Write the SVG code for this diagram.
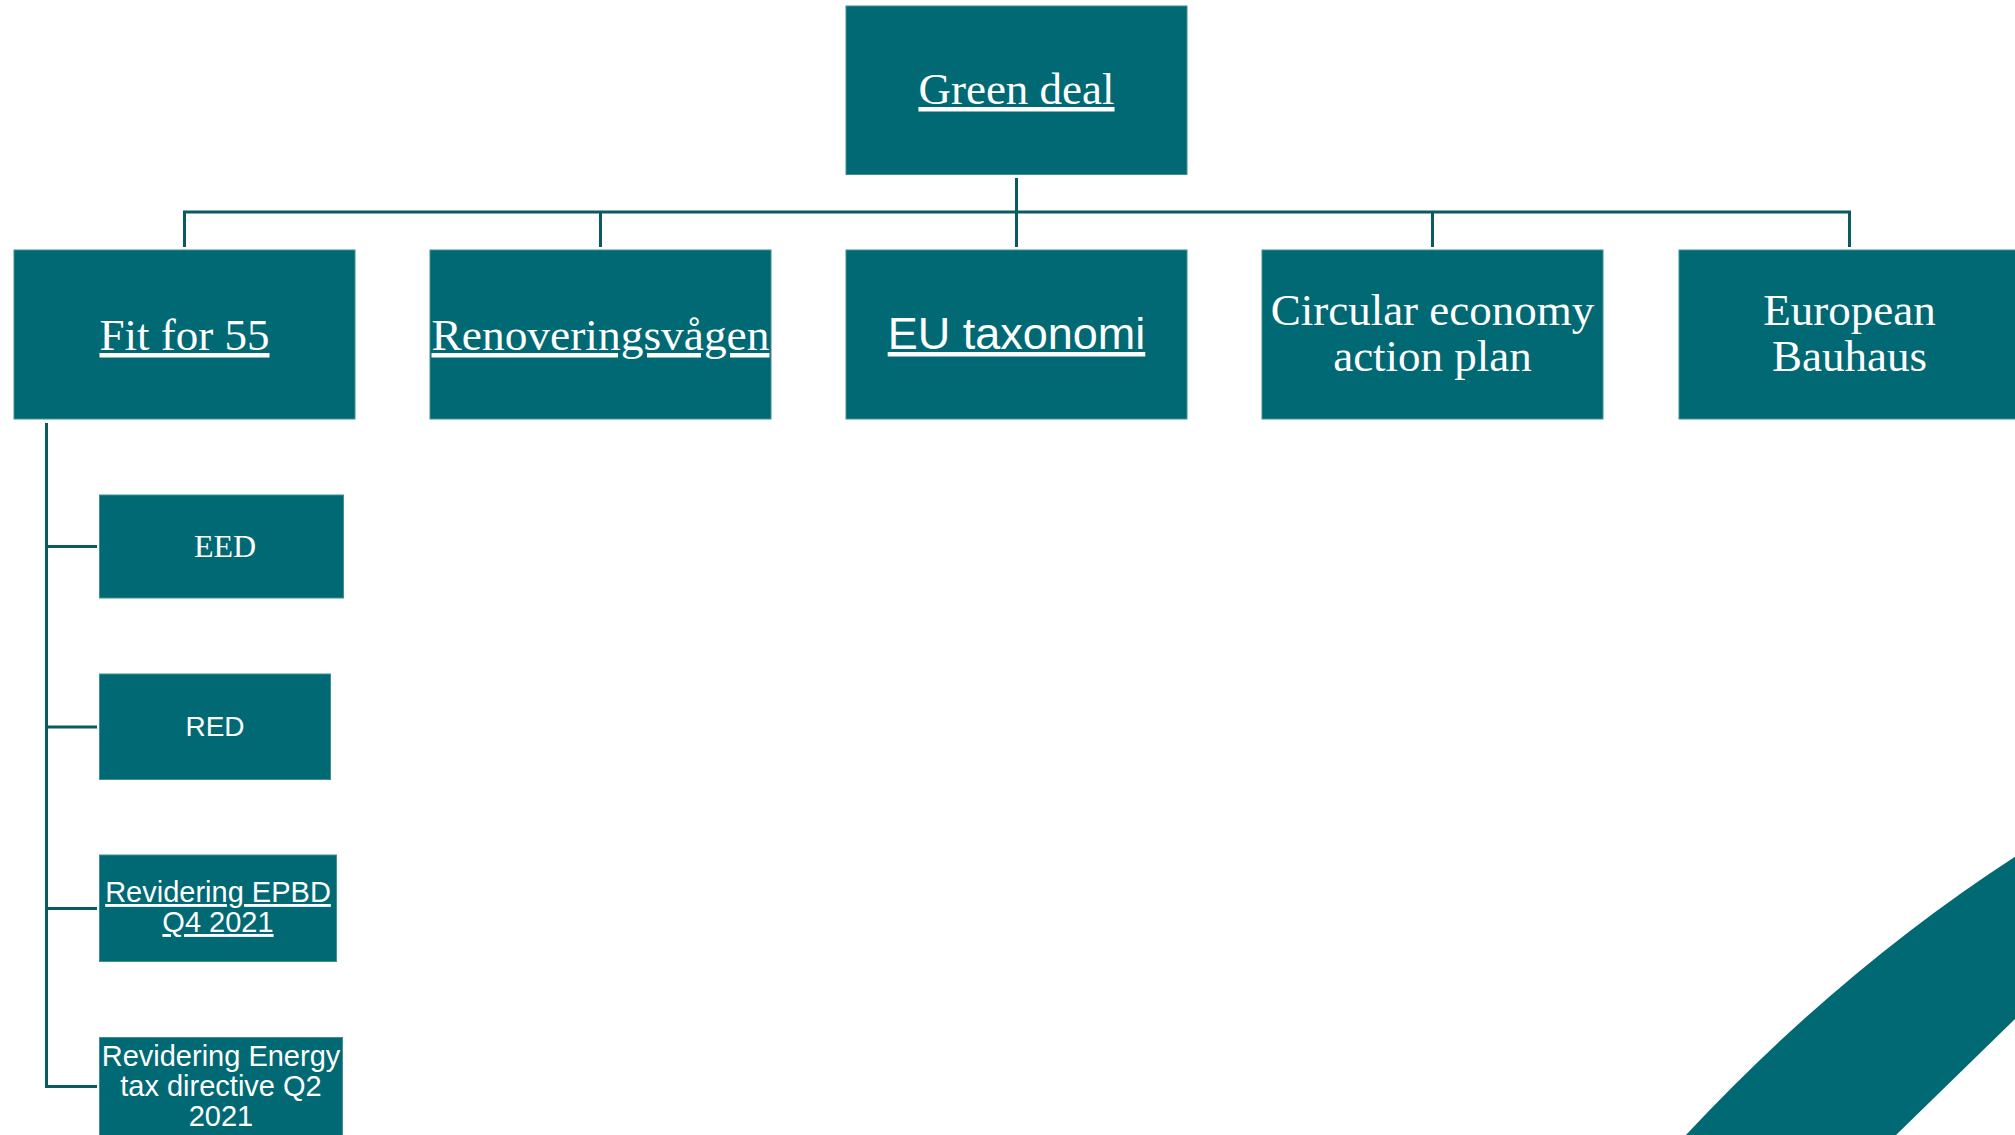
<svg xmlns="http://www.w3.org/2000/svg" width="2015" height="1135" viewBox="0 0 2015 1135">
<style>
.box{fill:#016974;stroke:#3f8f96;stroke-width:1}
.con{stroke:#0b5961;stroke-width:3;fill:none}
.serif{font-family:"Liberation Serif","Times New Roman",serif;fill:#ffffff;text-anchor:middle}
.sans{font-family:"Liberation Sans",Arial,sans-serif;fill:#ffffff;text-anchor:middle}
.u{text-decoration:underline}
</style>
<rect width="2015" height="1135" fill="#ffffff"/>
<path d="M1685,1136 Q1840,970 2016,856 L2016,1018 L1895,1136 Z" fill="#016974"/>
<g id="connectors">
<path class="con" d="M1016.5,178 V247 M184.5,247 V212 H1849.5 V247 M600.5,212 V247 M1432.5,212 V247"/>
<path class="con" d="M46.5,423 V1087 M45,546.5 H97 M45,727 H97 M45,908.5 H97 M45,1086.5 H97"/>
</g>
<g id="green-deal">
<rect class="box" x="846" y="6" width="341" height="168.5"/>
<text class="serif u" x="1016.5" y="104" font-size="45">Green deal</text>
</g>
<g id="fit-for-55">
<rect class="box" x="14" y="250" width="341" height="169"/>
<text class="serif u" x="184.5" y="350" font-size="45">Fit for 55</text>
</g>
<g id="renoveringsvagen">
<rect class="box" x="430" y="250" width="341" height="169"/>
<text class="serif u" x="600.5" y="350" font-size="45" textLength="338" lengthAdjust="spacingAndGlyphs">Renoveringsvågen</text>
</g>
<g id="eu-taxonomi">
<rect class="box" x="846" y="250" width="341" height="169"/>
<text class="sans u" x="1016.5" y="349" font-size="45">EU taxonomi</text>
</g>
<g id="circular-economy">
<rect class="box" x="1262" y="250" width="341" height="169"/>
<text class="serif" x="1432.5" y="325" font-size="45">Circular economy</text>
<text class="serif" x="1432.5" y="371" font-size="45">action plan</text>
</g>
<g id="european-bauhaus">
<rect class="box" x="1679" y="250" width="341" height="169"/>
<text class="serif" x="1849.5" y="325" font-size="45">European</text>
<text class="serif" x="1849.5" y="371" font-size="45">Bauhaus</text>
</g>
<g id="eed">
<rect class="box" x="99.5" y="495" width="244" height="103"/>
<text class="serif" x="225" y="557" font-size="32">EED</text>
</g>
<g id="red">
<rect class="box" x="99.5" y="674" width="231" height="105.5"/>
<text class="sans" x="215" y="736" font-size="28">RED</text>
</g>
<g id="revidering-epbd">
<rect class="box" x="99.5" y="855" width="237" height="106.5"/>
<text class="sans u" x="218" y="902" font-size="29">Revidering EPBD</text>
<text class="sans u" x="218" y="932" font-size="29">Q4 2021</text>
</g>
<g id="revidering-energy">
<rect class="box" x="99.5" y="1037.5" width="243" height="106"/>
<text class="sans" x="221" y="1065.5" font-size="29">Revidering Energy</text>
<text class="sans" x="221" y="1095.5" font-size="29">tax directive Q2</text>
<text class="sans" x="221" y="1125.5" font-size="29">2021</text>
</g>
</svg>
